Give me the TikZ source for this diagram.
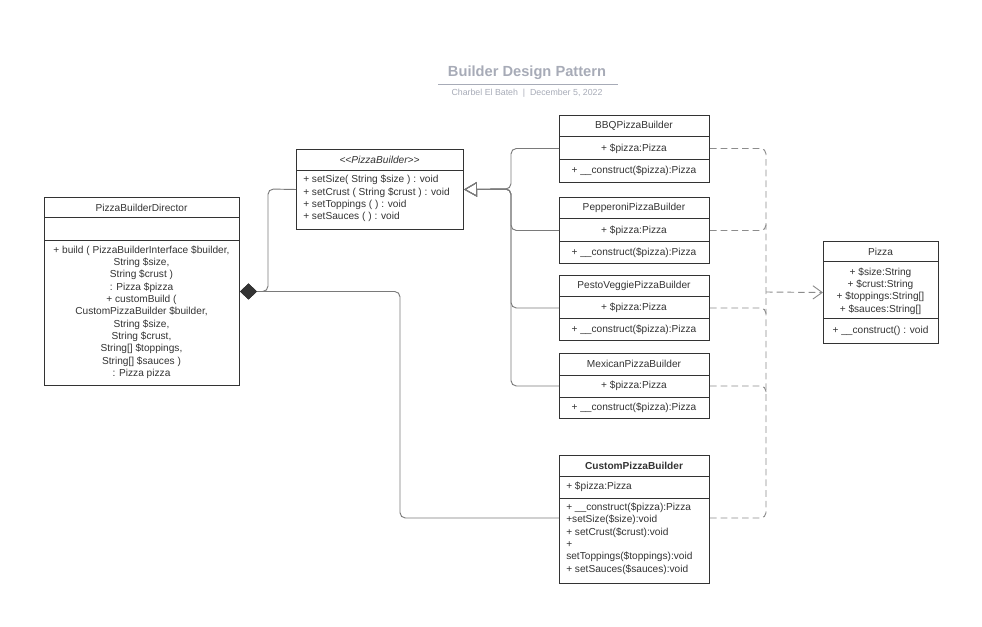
\documentclass[tikz,border=0pt]{standalone}
\usepackage{fontspec}
\setmainfont{Liberation Sans}
\usetikzlibrary{arrows.meta}
\definecolor{boxc}{HTML}{333333}
\definecolor{txtc}{HTML}{333333}
\definecolor{linec}{HTML}{7A7A7A}
\definecolor{dashc}{HTML}{8C8C8C}
\definecolor{titlec}{HTML}{A7ABB7}
\tikzset{
  cls/.style={draw=boxc, line width=0.75pt, fill=white, inner sep=0pt, anchor=north west},
  div/.style={draw=boxc, line width=0.75pt},
  txt/.style={font=\fontsize{7.6}{9.25}\selectfont, text=txtc, inner sep=0pt},
  gen/.style={draw=linec, line width=0.7pt, rounded corners=4pt,
    -{Triangle[open, length=9.75pt, width=11pt]}},
  comp/.style={draw=linec, line width=0.7pt, rounded corners=4pt,
    {Diamond[length=12.75pt, width=12pt, color=boxc]}-},
  dep/.style={draw=dashc, line width=0.7pt, rounded corners=4pt, dash pattern=on 5pt off 3pt},
  deptip/.style={dep, -{Straight Barb[length=7pt, width=10pt]}}
}
\begin{document}
\begin{tikzpicture}[x=0.75pt,y=-0.75pt]
\useasboundingbox (0,0) rectangle (982,627);

% title
\node[font=\fontsize{11}{13}\selectfont\bfseries, text=titlec, inner sep=0pt] (title) at (527,73) {Builder Design Pattern};
\draw[titlec, line width=1.1pt] (438,84.5) -- (618,84.5);
\node[font=\fontsize{6.6}{8}\selectfont, text=titlec, inner sep=0pt] (sub) at (527,93) {Charbel El Bateh\ \ |\ \ December 5, 2022};

% interface
\node[cls, minimum width=125.25pt, minimum height=60pt] (iface) at (296,149) {};
\draw[div] (296,171) -- (463,171);
\node[txt, font=\fontsize{7.6}{9.25}\selectfont\itshape] (ifaceh) at (379.5,160) {<\kern0pt<PizzaBuilder>\kern0pt>};
\node[txt, align=left, anchor=west] (ifacem) at (303,198.5) {+ setSize( String \$size ) : void\\+ setCrust ( String \$crust ) : void\\+ setToppings ( ) : void\\+ setSauces ( ) : void};

% director
\node[cls, minimum width=146.25pt, minimum height=141pt] (dir) at (44,197) {};
\draw[div] (44,218) -- (239,218);
\draw[div] (44,241) -- (239,241);
\node[txt] (dirh) at (141.5,207.5) {PizzaBuilderDirector};
\node[txt, align=center] (dirm) at (141.5,312) {+ build ( PizzaBuilderInterface \$builder,\\String \$size,\\String \$crust )\\: Pizza \$pizza\\+ customBuild (\\CustomPizzaBuilder \$builder,\\String \$size,\\String \$crust,\\String[] \$toppings,\\String[] \$sauces )\\: Pizza pizza};

% BBQ
\node[cls, minimum width=112.5pt, minimum height=50.25pt] (bbq) at (559,115) {};
\draw[div] (559,137) -- (709,137);
\draw[div] (559,160) -- (709,160);
\node[txt] (bbqh) at (634,126) {BBQPizzaBuilder};
\node[txt] (bbqa) at (634,148.5) {+ \$pizza:Pizza};
\node[txt] (bbqm) at (634,171) {+ \_\_construct(\$pizza):Pizza};

% Pepperoni
\node[cls, minimum width=112.5pt, minimum height=49.5pt] (pep) at (559,197) {};
\draw[div] (559,219) -- (709,219);
\draw[div] (559,242) -- (709,242);
\node[txt] (peph) at (634,208) {PepperoniPizzaBuilder};
\node[txt] (pepa) at (634,230.5) {+ \$pizza:Pizza};
\node[txt] (pepm) at (634,252.5) {+ \_\_construct(\$pizza):Pizza};

% PestoVeggie
\node[cls, minimum width=112.5pt, minimum height=48.75pt] (pesto) at (559,275) {};
\draw[div] (559,297) -- (709,297);
\draw[div] (559,319) -- (709,319);
\node[txt] (pestoh) at (634,286) {PestoVeggiePizzaBuilder};
\node[txt] (pestoa) at (634,308) {+ \$pizza:Pizza};
\node[txt] (pestom) at (634,329.5) {+ \_\_construct(\$pizza):Pizza};

% Mexican
\node[cls, minimum width=112.5pt, minimum height=48.75pt] (mex) at (559,353) {};
\draw[div] (559,375) -- (709,375);
\draw[div] (559,397) -- (709,397);
\node[txt] (mexh) at (634,364) {MexicanPizzaBuilder};
\node[txt] (mexa) at (634,386) {+ \$pizza:Pizza};
\node[txt] (mexm) at (634,407.5) {+ \_\_construct(\$pizza):Pizza};

% Custom
\node[cls, minimum width=112.5pt, minimum height=96pt] (custom) at (559,455) {};
\draw[div] (559,476) -- (709,476);
\draw[div] (559,498) -- (709,498);
\node[txt, font=\fontsize{7.6}{9.25}\selectfont\bfseries] (customh) at (634,465.5) {CustomPizzaBuilder};
\node[txt, anchor=west] (customa) at (566,487) {+ \$pizza:Pizza};
\node[txt, align=left, anchor=west] (customm) at (566,538.5) {+ \_\_construct(\$pizza):Pizza\\+setSize(\$size):void\\+ setCrust(\$crust):void\\+\\setToppings(\$toppings):void\\+ setSauces(\$sauces):void};

% Pizza
\node[cls, minimum width=86.25pt, minimum height=76.5pt] (pizza) at (823,241) {};
\draw[div] (823,262) -- (938,262);
\draw[div] (823,319) -- (938,319);
\node[txt] (pizzah) at (880.5,251.5) {Pizza};
\node[txt, align=center] (pizzaa) at (880.5,291) {+ \$size:String\\+ \$crust:String\\+ \$toppings:String[]\\+ \$sauces:String[]};
\node[txt] (pizzam) at (880.5,331) {+ \_\_construct() : void};

% generalization
\coordinate (gj) at (511,189);
\foreach \b in {bbq,pep,pesto,mex}{
  \draw[gen] (\b.west |- \b a) -| (gj) -- (iface.east);
}

% composition
\coordinate (cu) at (268,189);
\coordinate (cd) at (400,518);
\draw[comp] (dir.east) -| (cd) -- (custom.west |- cd);
\draw[comp] (dir.east) -| (cu) -- (iface.west);

% dependency
\coordinate (dj) at (766,292);
\draw[dep] (bbq.east |- bbqa) -| (dj);
\draw[dep] (custom.east |- cd) -| (dj);
\foreach \b/\d in {pep/6,pesto/-6,mex/-6}{
  \draw[dep] (\b.east |- \b a) -| ([yshift=\d*0.75pt]dj |- \b a);
}
\draw[deptip] (dj) -- (pizza.west);
\end{tikzpicture}
\end{document}
